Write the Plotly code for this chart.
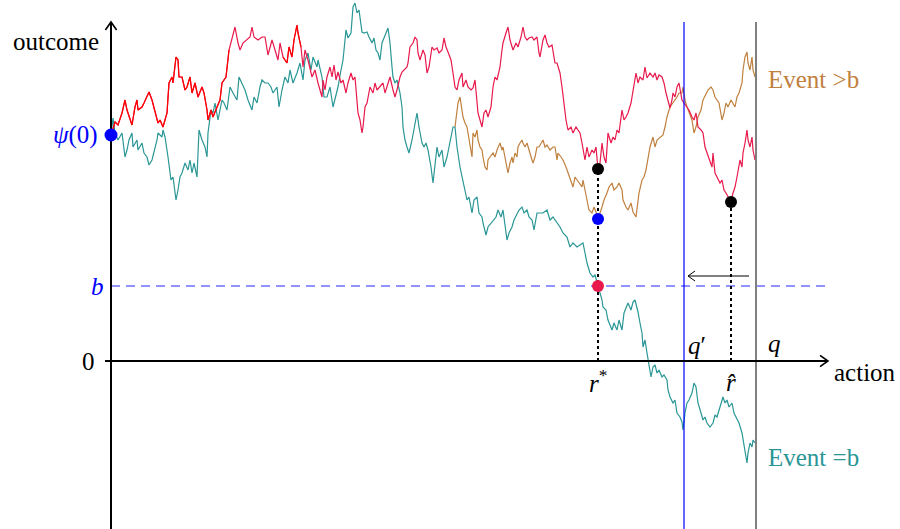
import plotly.graph_objects as go

# ---------------- data (action t, outcome v) ----------------
PSI0 = 226          # psi(0)
B_LEVEL = 75        # b
R_STAR = 487        # r*
R_HAT = 620         # r-hat
Q_PRIME = 573       # q'
Q_END = 645         # q
RED_AT_RSTAR = 192
BROWN_AT_RSTAR = 142
RED_AT_RHAT = 159

RED_T = [0,1,4,7,11,14,16,18,21,24,26,27,31,33,36,38,41,44,47,49,52,56,58,61,62,65,67,68,71,74,76,79,81,84,87,91,93,96,97,100,102,106,109,111,115,118,121,124,127,129,132,136,139,141,143,147,151,154,157,161,164,167,169,172,176,178,181,183,186,187,190,192,194,197,201,204,207,211,212,214,216,219,221,223,225,227,230,232,235,237,240,242,244,246,247,249,251,252,254,256,259,262,264,266,269,272,274,276,279,282,284,286,289,291,293,296,297,299,302,304,306,307,309,312,314,316,318,321,323,326,328,331,333,335,337,340,342,344,346,348,351,352,355,357,360,362,364,366,367,369,371,373,375,377,380,382,384,386,389,391,392,395,397,399,401,402,405,407,410,412,414,416,418,421,423,426,428,429,432,434,436,438,441,442,444,446,449,451,453,455,457,460,462,465,467,469,471,472,474,476,478,481,483,485,487,489,491,493,495,497,500,502,504,506,508,511,513,515,517,520,522,525,527,529,532,534,536,539,542,544,546,548,551,553,555,557,559,561,562,564,566,568,571,573,576,578,581,583,585,587,590,592,594,596,598,601,602,604,606,609,611,613,615,617,620,622,624,626,627,629,631,632,634,636,637,639,641,642,644]
RED_V = [226,228,239,236,248,261,251,244,236,254,261,251,254,258,264,269,261,248,238,241,234,248,278,284,278,304,301,284,284,271,274,284,268,278,264,274,268,251,241,251,244,254,261,278,284,311,324,334,318,311,318,321,324,334,324,321,324,324,306,321,311,301,318,304,298,314,304,321,336,328,314,294,311,301,284,291,278,264,281,271,284,294,284,296,281,289,278,281,268,278,288,281,284,261,248,241,228,234,254,258,274,268,278,271,274,278,268,274,284,271,264,271,284,289,291,294,298,314,318,324,321,308,301,311,306,288,294,314,311,313,308,311,323,314,309,301,288,274,271,281,288,274,281,274,271,273,281,261,248,241,234,248,251,244,254,274,284,281,294,311,318,328,334,321,314,311,318,314,324,334,324,321,323,324,321,324,308,304,321,326,318,314,316,308,298,298,288,274,254,241,231,234,228,234,231,228,218,211,201,214,204,211,208,214,192,198,218,204,198,228,218,224,221,231,228,251,241,244,248,258,271,288,278,284,281,294,283,288,284,288,281,286,284,278,268,261,253,261,268,264,274,278,261,258,254,251,244,241,248,234,231,228,214,208,201,194,208,188,184,178,181,171,168,164,159,168,174,184,191,201,194,208,218,231,221,214,224,211,201]

TEAL_T = [0,2,4,7,11,14,16,18,21,22,26,27,31,33,36,38,41,43,46,47,51,52,54,57,60,62,65,67,69,71,74,77,79,81,83,86,88,91,94,96,97,100,102,104,107,111,113,116,119,122,126,128,131,134,137,141,143,146,149,151,154,157,160,162,166,168,171,174,177,179,182,186,189,192,194,197,200,202,206,207,211,213,216,219,222,226,227,230,232,235,237,240,242,244,246,248,251,253,256,258,261,263,265,267,269,271,273,275,277,279,281,282,284,286,289,291,292,294,296,298,301,303,306,308,311,313,315,317,320,322,324,326,328,331,333,336,338,341,342,344,346,349,352,354,356,358,361,363,366,368,371,372,375,377,380,382,385,387,390,392,394,396,398,401,403,406,408,411,413,416,418,421,423,426,429,432,436,439,442,446,449,452,456,459,462,466,469,472,474,476,479,482,484,487,491,492,495,497,501,503,506,508,511,513,515,517,520,522,524,526,527,529,531,532,534,536,538,540,542,544,546,548,551,553,556,557,559,562,564,566,569,571,572,574,576,578,581,583,585,587,590,592,594,596,599,602,604,606,609,612,614,616,618,621,623,626,628,631,632,634,636,637,639,641,642,644]
TEAL_V = [226,243,228,221,228,204,211,221,228,214,221,211,218,208,204,196,201,208,221,228,224,231,224,204,181,184,161,171,184,188,198,191,201,188,198,184,231,221,214,204,228,251,248,258,241,261,258,251,274,268,261,284,278,271,261,251,264,258,274,281,278,278,274,268,274,254,271,284,278,291,278,288,298,281,301,308,291,304,294,301,284,264,264,274,254,268,274,291,301,331,323,328,354,358,348,351,329,328,329,324,318,323,311,308,301,318,324,328,333,318,294,284,278,281,268,254,234,221,214,208,221,231,248,234,218,214,218,211,194,178,198,214,204,211,194,204,214,228,234,234,214,194,181,169,161,164,148,161,164,148,144,138,126,134,138,141,144,151,144,151,138,121,128,134,141,148,151,154,148,151,144,141,131,148,148,148,151,141,144,138,134,128,124,114,118,114,116,118,108,98,88,84,86,75,61,54,51,41,31,38,31,41,31,48,54,58,51,59,61,54,49,38,28,14,21,8,-6,-16,-6,-4,-12,-9,-16,-14,-19,-29,-36,-42,-39,-52,-56,-61,-69,-52,-42,-39,-32,-22,-26,-42,-52,-59,-56,-62,-66,-62,-54,-56,-46,-36,-42,-39,-46,-42,-52,-59,-62,-72,-79,-92,-102,-92,-82,-86,-79,-82]

BROWN_T = [344,346,347,349,351,352,354,356,357,359,361,362,364,366,367,369,371,372,374,376,377,379,382,384,386,389,391,392,394,396,397,399,401,402,404,406,407,409,411,412,414,416,417,419,421,422,424,426,428,432,434,436,439,442,444,446,447,450,452,455,457,460,462,464,466,468,471,472,474,476,478,481,483,485,487,491,493,496,498,501,503,506,508,511,512,515,517,520,522,525,526,528,531,533,535,537,539,542,544,546,549,552,554,556,559,562,564,566,568,571,572,574,576,578,581,583,585,587,590,592,595,597,600,602,604,606,608,611,613,615,617,620,622,624,626,628,631,632,634,636,637,639,641,642,644]
BROWN_V = [234,251,258,264,251,244,238,234,228,214,204,228,224,231,221,214,211,204,194,191,201,204,208,204,211,218,211,214,204,194,188,198,204,198,208,204,214,218,221,218,214,218,214,208,201,198,204,214,214,221,214,216,211,214,214,201,208,204,201,194,188,181,174,184,181,178,174,181,171,161,151,148,154,149,142,154,161,168,174,178,171,174,178,171,161,154,151,158,149,144,154,168,181,184,191,201,214,224,214,221,224,226,234,244,254,258,261,264,268,268,274,261,254,248,241,228,234,244,251,261,268,271,274,271,264,261,258,241,248,258,254,261,258,254,264,268,278,291,304,309,298,291,304,291,284]

RED_ONLY_RANGES = [(0, 118), (172, 190)]   # stretches drawn in pure red

# ---------------- styling ----------------
C_RED = "#ff0000"
C_CRIMSON = "#e8194c"
C_TEAL = "#2a9696"
C_BROWN = "#c0803e"
C_BLUE = "#0000ff"
FONT = "Liberation Serif, Times New Roman, serif"
FS = 25

X_MIN, X_MAX = -111, 789
Y_MIN, Y_MAX = -168, 361
AX_X_END = 717
AX_Y_END = 339
AX_X_START = -6

fig = go.Figure()

def walk(t, v, color, name):
    fig.add_trace(go.Scatter(x=t, y=v, mode="lines", line=dict(color=color, width=1.2),
                             name=name, hoverinfo="skip"))

walk(TEAL_T, TEAL_V, C_TEAL, "Event =b")
walk(BROWN_T, BROWN_V, C_BROWN, "Event >b")
walk(RED_T, RED_V, C_CRIMSON, "path")
for lo, hi in RED_ONLY_RANGES:
    idx = [i for i, tt in enumerate(RED_T) if lo <= tt <= hi]
    walk([RED_T[i] for i in idx], [RED_V[i] for i in idx], C_RED, "path start")

# reference lines
fig.add_trace(go.Scatter(x=[0, AX_X_END], y=[B_LEVEL, B_LEVEL], mode="lines",
                         line=dict(color="rgba(60,60,255,0.75)", width=1.3, dash="9px,6px"),
                         hoverinfo="skip"))
fig.add_trace(go.Scatter(x=[Q_PRIME, Q_PRIME], y=[Y_MIN, AX_Y_END], mode="lines",
                         line=dict(color=C_BLUE, width=1.2), hoverinfo="skip"))
fig.add_trace(go.Scatter(x=[Q_END, Q_END], y=[Y_MIN, AX_Y_END], mode="lines",
                         line=dict(color="#808080", width=2), hoverinfo="skip"))
fig.add_trace(go.Scatter(x=[R_STAR, R_STAR], y=[0, RED_AT_RSTAR], mode="lines",
                         line=dict(color="black", width=2, dash="dot"), hoverinfo="skip"))
fig.add_trace(go.Scatter(x=[R_HAT, R_HAT], y=[0, RED_AT_RHAT], mode="lines",
                         line=dict(color="black", width=2, dash="dot"), hoverinfo="skip"))

# axes
fig.add_trace(go.Scatter(x=[AX_X_START, AX_X_END], y=[0, 0], mode="lines",
                         line=dict(color="black", width=2), hoverinfo="skip"))
fig.add_trace(go.Scatter(x=[0, 0], y=[Y_MIN, AX_Y_END], mode="lines",
                         line=dict(color="black", width=2), hoverinfo="skip"))
# arrow heads (open chevrons)
AH = 8
fig.add_trace(go.Scatter(x=[AX_X_END - AH, AX_X_END, AX_X_END - AH], y=[AH * 0.7, 0, -AH * 0.7],
                         mode="lines", line=dict(color="black", width=1.6), hoverinfo="skip"))
fig.add_trace(go.Scatter(x=[-AH * 0.7, 0, AH * 0.7], y=[AX_Y_END - AH, AX_Y_END, AX_Y_END - AH],
                         mode="lines", line=dict(color="black", width=1.6), hoverinfo="skip"))
# small shift arrow from q towards q'
ARW_Y = 85
ARW_FROM, ARW_TO = 638, 577
fig.add_trace(go.Scatter(x=[ARW_FROM, ARW_TO], y=[ARW_Y, ARW_Y], mode="lines",
                         line=dict(color="black", width=1), hoverinfo="skip"))
fig.add_trace(go.Scatter(x=[ARW_TO + 7, ARW_TO, ARW_TO + 7], y=[ARW_Y + 5, ARW_Y, ARW_Y - 5],
                         mode="lines", line=dict(color="black", width=1), hoverinfo="skip"))

# points
fig.add_trace(go.Scatter(x=[0], y=[PSI0], mode="markers",
                         marker=dict(color=C_BLUE, size=13), hoverinfo="skip"))
fig.add_trace(go.Scatter(x=[R_STAR, R_HAT], y=[RED_AT_RSTAR, RED_AT_RHAT], mode="markers",
                         marker=dict(color="black", size=12), hoverinfo="skip"))
fig.add_trace(go.Scatter(x=[R_STAR], y=[BROWN_AT_RSTAR], mode="markers",
                         marker=dict(color=C_BLUE, size=12), hoverinfo="skip"))
fig.add_trace(go.Scatter(x=[R_STAR], y=[B_LEVEL], mode="markers",
                         marker=dict(color=C_CRIMSON, size=12), hoverinfo="skip"))

# labels
labels = [
    ("outcome", -55, 320, "black"),
    ("<i>ψ</i>(0)", -36, 226, C_BLUE),
    ("<i>b</i>", -14, 75, C_BLUE),
    ("0", -23, 0, "black"),
    ("action", 754, -11, "black"),
    ("<i>r</i><sup>*</sup>", 487, -20, "black"),
    ("<i>r̂</i>", 620, -21, "black"),
    ("<i>q</i>′", 586, 16, "black"),
    ("<i>q</i>", 663, 18, "black"),
    ("Event >b", 702, 282, C_BROWN),
    ("Event =b", 702, -96, C_TEAL),
]
for txt, x, y, col in labels:
    fig.add_annotation(x=x, y=y, text=txt, showarrow=False, xanchor="center", yanchor="middle",
                       font=dict(family=FONT, size=FS, color=col))

fig.update_layout(
    width=900, height=529, margin=dict(l=0, r=0, t=0, b=0),
    paper_bgcolor="white", plot_bgcolor="white", showlegend=False,
    font=dict(family=FONT, size=FS),
    xaxis=dict(range=[X_MIN, X_MAX], visible=False, fixedrange=True),
    yaxis=dict(range=[Y_MIN, Y_MAX], visible=False, fixedrange=True),
)
fig.write_html("out.html")
